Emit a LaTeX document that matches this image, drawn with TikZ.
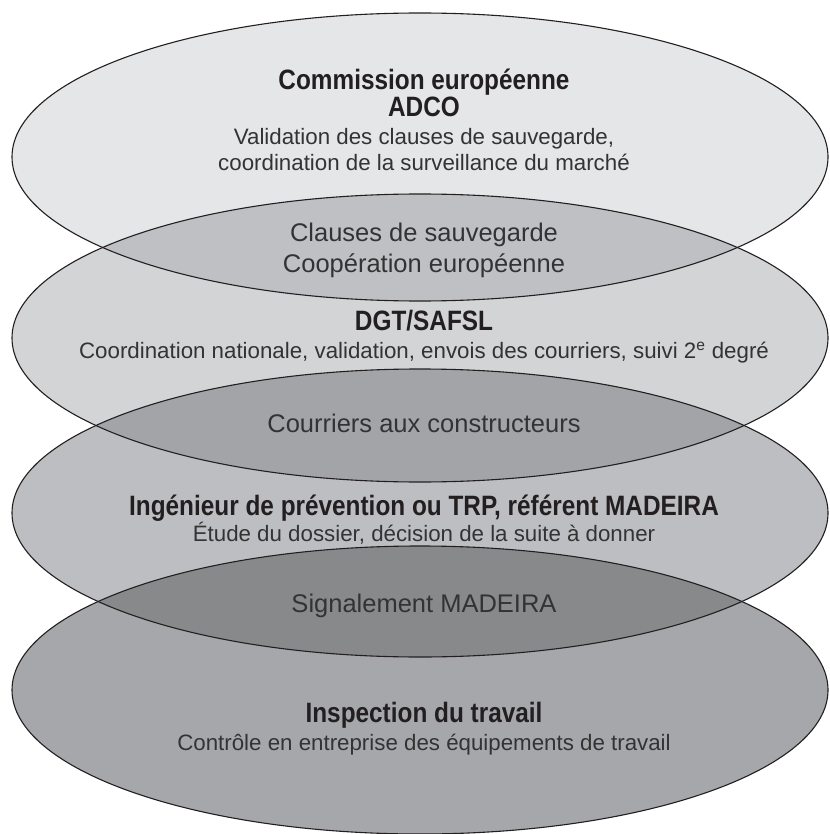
\documentclass[tikz,border=0pt]{standalone}
\usepackage{fontspec}
\setmainfont{Liberation Sans}
\newfontfamily\titlefont[FakeStretch=0.87]{Liberation Sans}
\usepackage{tikz}
\usetikzlibrary{positioning}

\definecolor{layerA}{HTML}{E5E6E8}
\definecolor{layerB}{HTML}{D3D4D6}
\definecolor{layerC}{HTML}{BDBEC1}
\definecolor{layerD}{HTML}{A6A7AA}
\definecolor{lensAB}{HTML}{BFC0C3}
\definecolor{lensBC}{HTML}{A3A4A7}
\definecolor{lensCD}{HTML}{88898B}
\definecolor{inkdark}{HTML}{231F20}
\definecolor{inkgray}{HTML}{333333}

\begin{document}
\begin{tikzpicture}[
    x=1pt, y=-1pt,
    contour/.style={draw=inkdark, line width=1.1pt},
    titre/.style={anchor=base, inner sep=0pt, text=inkdark, font=\titlefont\bfseries\fontsize{28}{30}\selectfont},
    texte/.style={anchor=base, inner sep=0pt, text=inkgray, font=\fontsize{22.3}{26}\selectfont},
    lien/.style={anchor=base, inner sep=0pt, text=inkgray, font=\fontsize{25.5}{30}\selectfont}
]
\useasboundingbox (0,0) rectangle (829,834);
% ---------- centres des ellipses ----------
\coordinate (cA) at (420,157);
\coordinate (cB) at (420,338);
\coordinate (cC) at (420,513);
\coordinate (cD) at (420,690);
% ---------- fonds ----------
\fill[layerA] (cA) ellipse [x radius=408, y radius=144];
\fill[layerB] (cB) ellipse [x radius=408, y radius=144];
\fill[layerC] (cC) ellipse [x radius=408, y radius=144];
\fill[layerD] (cD) ellipse [x radius=408, y radius=144];
% ---------- zones communes ----------
\begin{scope}
\clip (cA) ellipse [x radius=408, y radius=144];
\fill[lensAB] (cB) ellipse [x radius=408, y radius=144];
\end{scope}
\begin{scope}
\clip (cB) ellipse [x radius=408, y radius=144];
\fill[lensBC] (cC) ellipse [x radius=408, y radius=144];
\end{scope}
\begin{scope}
\clip (cC) ellipse [x radius=408, y radius=144];
\fill[lensCD] (cD) ellipse [x radius=408, y radius=144];
\end{scope}
% ---------- contours ----------
\draw[contour] (cA) ellipse [x radius=408, y radius=144];
\draw[contour] (cB) ellipse [x radius=408, y radius=144];
\draw[contour] (cC) ellipse [x radius=408, y radius=144];
\draw[contour] (cD) ellipse [x radius=408, y radius=144];
% ---------- textes ----------
\node[titre] (titreA1) at (424,90) {Commission européenne};
\node[titre] (titreA2) at (424,117) {ADCO};
\node[texte] (texteA1) at (424,145) {Validation des clauses de sauvegarde,};
\node[texte] (texteA2) at (424,171) {coordination de la surveillance du marché};
\node[lien]  (lienAB1) at (424,241) {Clauses de sauvegarde};
\node[lien]  (lienAB2) at (424,272) {Coopération européenne};
\node[titre] (titreB) at (424,330) {DGT/SAFSL};
\node[texte] (texteB) at (424,358) {Coordination nationale, validation, envois des courriers, suivi 2\textsuperscript{e} degré};
\node[lien]  (lienBC) at (424,432) {Courriers aux constructeurs};
\node[titre] (titreC) at (424,515) {Ingénieur de prévention ou TRP, référent MADEIRA};
\node[texte] (texteC) at (424,541) {Étude du dossier, décision de la suite à donner};
\node[lien]  (lienCD) at (424,612) {Signalement MADEIRA};
\node[titre] (titreD) at (424,722) {Inspection du travail};
\node[texte] (texteD) at (424,750) {Contrôle en entreprise des équipements de travail};
\end{tikzpicture}
\end{document}
